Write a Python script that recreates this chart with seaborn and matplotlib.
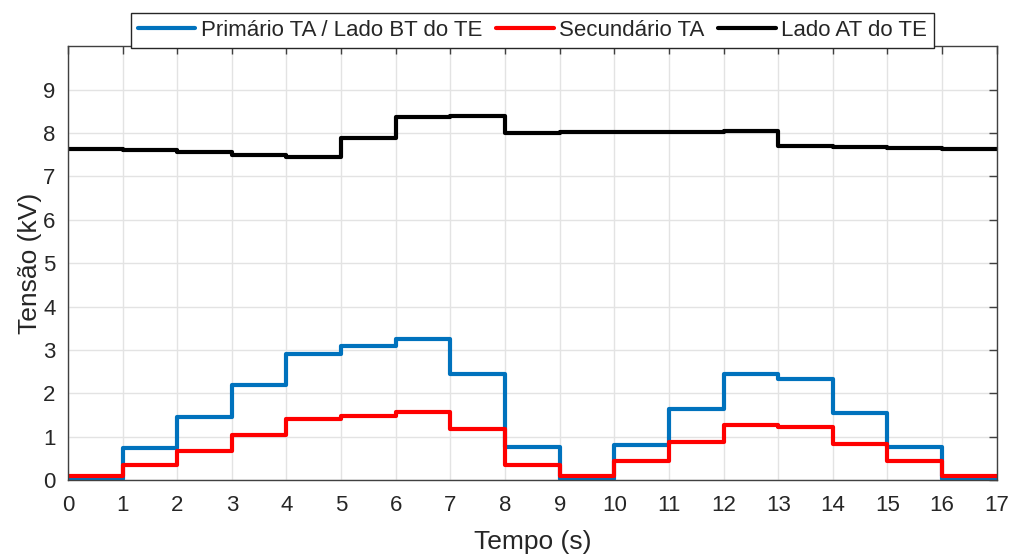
import numpy as np
import pandas as pd
import matplotlib
matplotlib.use("Agg")
import matplotlib.pyplot as plt
import seaborn as sns

# Data (step values for intervals [t, t+1), t = 0..16)
tempo = list(range(18))
primario_ta = [0.02, 0.73, 1.46, 2.19, 2.90, 3.09, 3.25, 2.44, 0.76, 0.02,
               0.80, 1.63, 2.44, 2.33, 1.55, 0.76, 0.02]
secundario_ta = [0.10, 0.34, 0.68, 1.03, 1.40, 1.48, 1.57, 1.17, 0.35, 0.10,
                 0.45, 0.87, 1.26, 1.22, 0.83, 0.44, 0.10]
lado_at = [7.63, 7.60, 7.56, 7.50, 7.44, 7.89, 8.36, 8.39, 8.00, 8.02,
           8.02, 8.03, 8.04, 7.70, 7.67, 7.65, 7.63]
series_names = ["Primário TA / Lado BT do TE", "Secundário TA", "Lado AT do TE"]
colors = ["#0072BD", "#FF0000", "#000000"]
xticks = list(range(18))
yticks = list(range(10))

rows = []
for name, vals in zip(series_names, [primario_ta, secundario_ta, lado_at]):
    full = vals + [vals[-1]]
    for t, v in zip(tempo, full):
        rows.append({"Tempo": t, "Tensão": v, "Série": name})
df = pd.DataFrame(rows)

sns.set_style("white")
plt.rcParams["font.family"] = ["Liberation Sans", "DejaVu Sans"]

fig = plt.figure(figsize=(10.14, 5.57), dpi=100)
ax = fig.add_axes([0.067, 0.138, 0.916, 0.779])

sns.lineplot(data=df, x="Tempo", y="Tensão", hue="Série", hue_order=series_names,
             palette=colors, drawstyle="steps-post", linewidth=3.0, ax=ax,
             legend=False, estimator=None, sort=False)

ax.set_xlim(0, 17)
ax.set_ylim(0, 10)
ax.set_xticks(xticks)
ax.set_yticks(yticks)
ax.grid(True, color="#e3e3e3", linewidth=1.0)
ax.set_axisbelow(True)
for s in ax.spines.values():
    s.set_color("#404040")
    s.set_linewidth(1.0)
ax.tick_params(direction="in", length=6, width=1, color="#404040",
               top=True, right=True, labelsize=16, labelcolor="#262626")
ax.tick_params(axis="x", pad=11)
ax.tick_params(axis="y", pad=9)
ax.set_xlabel("Tempo (s)", fontsize=19, color="#262626", labelpad=10)
ax.set_ylabel("Tensão (kV)", fontsize=19, color="#262626", labelpad=1)

handles = [plt.Line2D([], [], color=c, lw=3) for c in colors]
leg = ax.legend(handles, series_names, loc="lower center", bbox_to_anchor=(0.5, 0.997),
                ncol=3, fontsize=16, frameon=True, fancybox=False, framealpha=1,
                edgecolor="#262626", handlelength=2.6, handletextpad=0.25,
                columnspacing=0.6, borderpad=0.3, borderaxespad=0.0)
leg.get_frame().set_linewidth(1.0)

fig.savefig("out.png", dpi=100)
